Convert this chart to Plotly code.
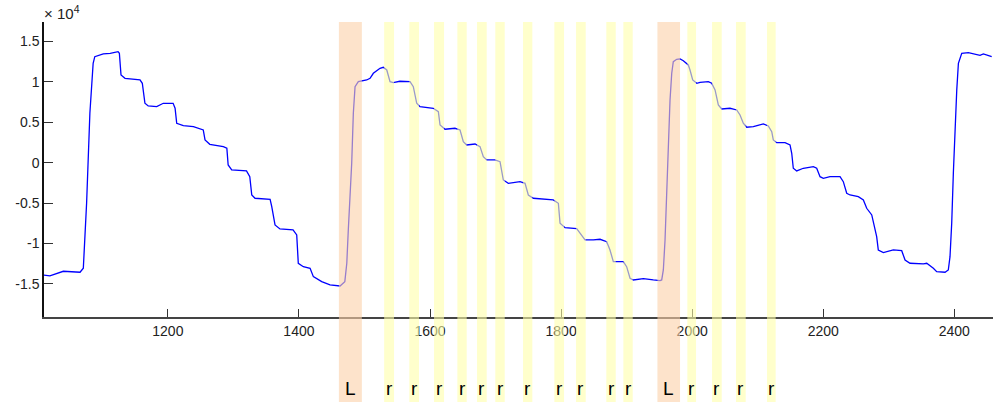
import plotly.graph_objects as go

# ---- signal ----
sample = [1010, 1020, 1040.5, 1066, 1071, 1076, 1081, 1086, 1088.5, 1101.5, 1112, 1124, 1126, 1128.5,
          1134.6, 1157.5, 1161, 1165, 1170, 1183, 1193, 1208, 1211, 1213.5, 1223.6, 1239, 1254, 1256.7,
          1264, 1284.6, 1290, 1292, 1297.4, 1320, 1325, 1328, 1333, 1356, 1358.5, 1363.5, 1371, 1391,
          1396.6, 1399, 1406.7, 1417, 1422, 1434.7, 1447.4, 1462.7, 1470, 1473, 1475.3, 1480.5, 1483,
          1485.6, 1490.6, 1500.8, 1503.4, 1508.5, 1513.5, 1523.7, 1528.7, 1534, 1539, 1544, 1554,
          1569.5, 1574.5, 1579.7, 1584.7, 1605, 1612.7, 1615.3, 1622.9, 1638, 1645.8, 1650.8, 1656,
          1668.7, 1676.3, 1681.3, 1686.5, 1699, 1706.8, 1711.8, 1719.5, 1737.3, 1745, 1750, 1757.6,
          1788, 1795.8, 1798.4, 1806, 1823.8, 1829, 1836.5, 1849.2, 1859.4, 1869.6, 1874.6, 1879.7,
          1895, 1900, 1905.2, 1910.2, 1925.5, 1940.7, 1951, 1953.5, 1956, 1958.6, 1961.2, 1963.6,
          1966.2, 1968.8, 1971.2, 1976.4, 1981.5, 1986.5, 1994.1, 1996.7, 2000.8, 2007, 2012, 2024.6,
          2029.8, 2034.9, 2039.9, 2045, 2057.7, 2068, 2073, 2078, 2083.2, 2093.3, 2108.6, 2116.2,
          2121.4, 2123.8, 2129, 2141.7, 2149.3, 2151.9, 2154.3, 2159.5, 2169.6, 2184.9, 2190, 2195.1,
          2200.1, 2210.3, 2225.6, 2230.6, 2235.8, 2240.9, 2253.5, 2261.2, 2266.3, 2274, 2276.4,
          2281.5, 2284, 2291.7, 2306.9, 2319.7, 2324.8, 2332.4, 2352.7, 2357.9, 2368, 2373.1, 2385.8,
          2390.8, 2393.4, 2396, 2398.5, 2401, 2403.7, 2406.2, 2411.3, 2421.4, 2431.6, 2439.2, 2444.3,
          2449.4, 2457]
signal = [-13900, -14020, -13440, -13564, -13069, -5025, 6114, 12302, 13118, 13453, 13539, 13737,
          13539, 10854, 10445, 10235, 9826, 7351, 7017, 6931, 7351, 7351, 6733, 4876, 4579, 4455,
          4047, 2809, 2277, 1980, 1782, -285, -903, -1027, -1733, -3997, -4406, -4530, -5445, -7710,
          -8205, -8329, -8948, -12450, -12871, -13069, -14109, -14727, -15136, -15260, -14727, -12450,
          -8329, -74, 6114, 9406, 10025, 10148, 10235, 10445, 11064, 11683, 11807, 11473, 10025, 9901,
          10074, 10025, 9406, 7351, 6931, 6733, 6312, 4666, 4134, 4257, 4047, 2599, 2191, 2314, 1980,
          743, 334, 334, 124, -2141, -2550, -2351, -2550, -3997, -4406, -4616, -5025, -7500, -8044,
          -8168, -8737, -9567, -9567, -9480, -9777, -10804, -12252, -12252, -12871, -14307, -14517,
          -14356, -14517, -14604, -14517, -13279, -9567, -3379, 2809, 7760, 11064, 12500, 12797,
          12834, 12624, 12091, 11473, 10235, 9826, 9950, 10025, 9826, 8997, 7141, 6646, 6733, 6522,
          5903, 4876, 4381, 4455, 4790, 4542, 3837, 2809, 2475, 2475, 2191, 1163, -693, -1027, -693,
          -495, -693, -1733, -1931, -1733, -1733, -2351, -3787, -3997, -4208, -4616, -5643, -6473,
          -7302, -9158, -10804, -11138, -10804, -10891, -12042, -12450, -12537, -12450, -13069,
          -13490, -13564, -13279, -11633, -7500, -1312, 4876, 8997, 12302, 13539, 13614, 13453,
          13292, 13453, 13329, 13118]

# ---- event intervals ----
L_start = [1461, 1947]
L_end = [1496, 1981.5]
r_start = [1530, 1568.4, 1606.1, 1641.7, 1671.7, 1699.6, 1741.9, 1789.7, 1822.8, 1869.0, 1895.0,
           1992.6, 2030.3, 2066.9, 2114.2]
r_end = [1545.1, 1583.2, 1621.4, 1656.0, 1686.5, 1714.0, 1756.1, 1804.5, 1837.6, 1883.4, 1909.3,
         2005.9, 2045.1, 2081.7, 2127.4]

x_ticks = [1200, 1400, 1600, 1800, 2000, 2200, 2400]
y_ticks = [-15000, -10000, -5000, 0, 5000, 10000, 15000]
y_ticktext = ["-1.5", "-1", "-0.5", "0", "0.5", "1", "1.5"]

FONT = "Liberation Sans, Arial, Helvetica"

fig = go.Figure()
fig.add_trace(go.Scatter(x=sample, y=signal, mode="lines",
                         line=dict(color="rgb(0,0,255)", width=1.3),
                         hoverinfo="skip", showlegend=False))

shapes = []
annotations = []
label_y = -0.2407
for s, e in zip(L_start, L_end):
    shapes.append(dict(type="rect", xref="x", yref="paper", x0=s, x1=e, y0=-0.3, y1=1,
                       fillcolor="rgb(251,208,168)", opacity=0.6, line=dict(width=0),
                       layer="above"))
    annotations.append(dict(x=(s + e) / 2, y=label_y, xref="x", yref="paper", text="L",
                            showarrow=False, xanchor="center", yanchor="middle",
                            font=dict(size=19, color="black", family=FONT)))
for s, e in zip(r_start, r_end):
    shapes.append(dict(type="rect", xref="x", yref="paper", x0=s, x1=e, y0=-0.3, y1=1,
                       fillcolor="rgb(255,255,170)", opacity=0.6, line=dict(width=0),
                       layer="above"))
    annotations.append(dict(x=(s + e) / 2, y=label_y, xref="x", yref="paper", text="r",
                            showarrow=False, xanchor="center", yanchor="middle",
                            font=dict(size=19, color="black", family=FONT)))

annotations.append(dict(x=-0.002, y=1, xref="paper", yref="paper", text="× 10<sup>4</sup>",
                        showarrow=False, xanchor="left", yanchor="bottom", yshift=-2,
                        font=dict(size=15, color="#222", family=FONT)))

fig.update_layout(
    width=993, height=402,
    margin=dict(l=44, r=0, t=22, b=85),
    paper_bgcolor="white", plot_bgcolor="white",
    font=dict(family=FONT, size=14, color="#222"),
    shapes=shapes, annotations=annotations,
    xaxis=dict(range=[1011, 2459], tickvals=x_ticks, ticks="inside", ticklen=8,
               tickcolor="#333", showline=True, linecolor="#444", linewidth=1.5,
               showgrid=False, zeroline=False, tickfont=dict(size=14, color="#222")),
    yaxis=dict(range=[-19100, 17410], tickvals=y_ticks, ticktext=y_ticktext,
               ticks="inside", ticklen=9, tickcolor="#333", showline=True,
               linecolor="#111", linewidth=1.5, showgrid=False, zeroline=False,
               tickfont=dict(size=14, color="#222")),
)

fig.write_html("out.html", config={"displayModeBar": False},
               post_script="document.body.style.margin='0px';document.body.style.overflow='hidden';")
